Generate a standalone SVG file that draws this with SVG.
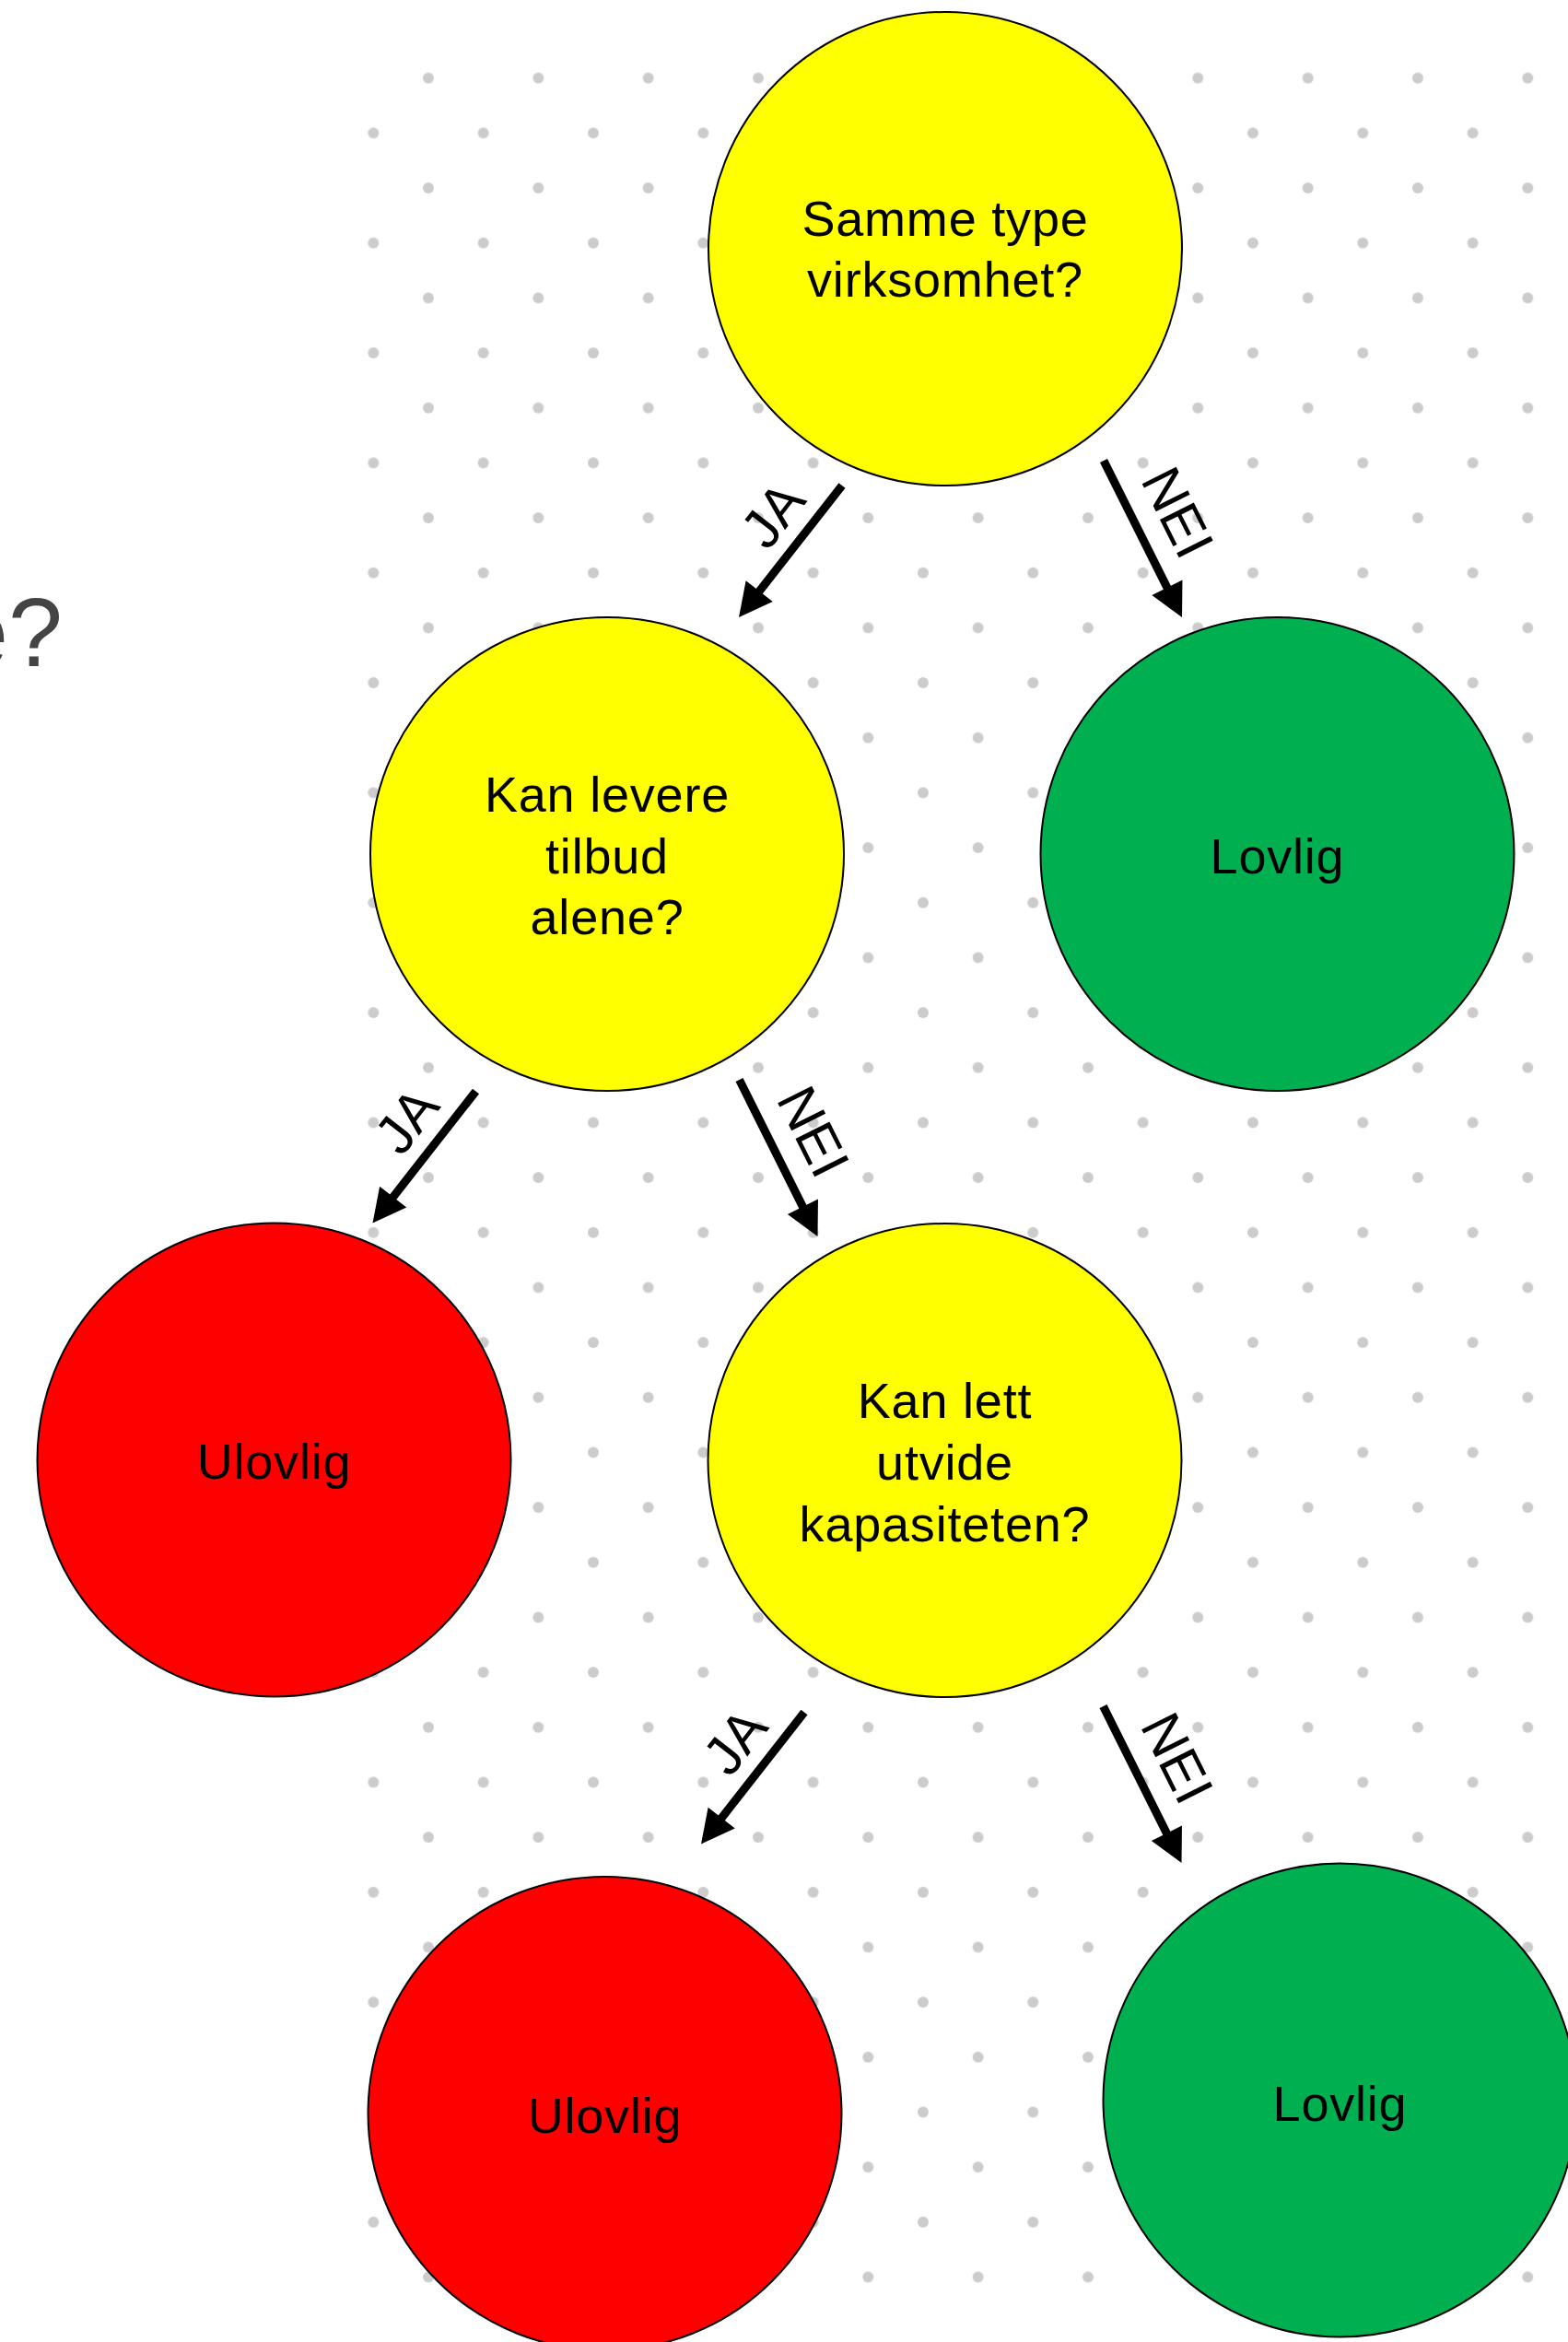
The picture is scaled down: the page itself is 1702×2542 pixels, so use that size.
<svg xmlns="http://www.w3.org/2000/svg" width="1702" height="2542" viewBox="0 0 1702 2542">
  <style>
    .node circle { stroke: #000; stroke-width: 2; }
    .q { fill: #ffff00; }
    .ok { fill: #00b050; }
    .no { fill: #ff0000; }
    .node text { font-family: "Liberation Sans", Arial, sans-serif; font-size: 54px; letter-spacing: 0.8px; fill: #000; text-anchor: middle; }
    .edge line { stroke: #000; stroke-width: 9; marker-end: url(#head); }
    .lbl { font-family: "Liberation Sans", Arial, sans-serif; font-size: 60px; fill: #000; text-anchor: middle; }
  </style>
  <defs>
    <!-- staggered grey dot grid -->
    <pattern id="dots" patternUnits="userSpaceOnUse" x="375.5" y="54.86" width="119.33" height="119.34">
      <circle cx="89.5" cy="29.84" r="6" fill="#cccccc"/>
      <circle cx="29.83" cy="89.51" r="6" fill="#cccccc"/>
    </pattern>
    <marker id="head" markerUnits="userSpaceOnUse" markerWidth="40" markerHeight="40" refX="0" refY="0" orient="auto" overflow="visible">
      <path d="M30,0 L-6,-18.5 L-6,18.5 Z" fill="#000"/>
    </marker>
  </defs>

  <rect width="1702" height="2542" fill="#fff"/>
  <rect x="395" y="75" width="1307" height="2410" fill="url(#dots)"/>

  <!-- heading running off the left edge -->
  <text x="-50" y="723" font-family="'Liberation Sans', Arial, sans-serif" font-size="106" fill="#444444">e?</text>

  <g id="connectors">
    <g class="edge" id="e1-ja">
      <line x1="914" y1="527" x2="820.5" y2="646.4"/>
      <text class="lbl" transform="translate(838.6 558.4) rotate(-51.92)" y="21">JA</text>
    </g>
    <g class="edge" id="e1-nei">
      <line x1="1198" y1="500" x2="1269.6" y2="643.2"/>
      <text class="lbl" transform="translate(1278.6 556.1) rotate(63.43)" y="21">NEI</text>
    </g>
    <g class="edge" id="e2-ja">
      <line x1="516.5" y1="1184.5" x2="423" y2="1303.9"/>
      <text class="lbl" transform="translate(441.1 1215.9) rotate(-51.92)" y="21">JA</text>
    </g>
    <g class="edge" id="e2-nei">
      <line x1="802.5" y1="1172" x2="874.1" y2="1315.2"/>
      <text class="lbl" transform="translate(883.1 1228.1) rotate(63.43)" y="21">NEI</text>
    </g>
    <g class="edge" id="e5-ja">
      <line x1="873" y1="1858.5" x2="779.5" y2="1977.9"/>
      <text class="lbl" transform="translate(797.6 1889.9) rotate(-51.92)" y="21">JA</text>
    </g>
    <g class="edge" id="e5-nei">
      <line x1="1197.5" y1="1852" x2="1269.1" y2="1995.2"/>
      <text class="lbl" transform="translate(1278.1 1908.1) rotate(63.43)" y="21">NEI</text>
    </g>
  </g>

  <g class="node" id="n-samme-type">
    <circle class="q" cx="1026" cy="270" r="257"/>
    <text><tspan x="1026" y="256">Samme type</tspan><tspan x="1026" y="322">virksomhet?</tspan></text>
  </g>
  <g class="node" id="n-levere-alene">
    <circle class="q" cx="659" cy="927" r="257"/>
    <text><tspan x="659" y="881">Kan levere</tspan><tspan x="659" y="948">tilbud</tspan><tspan x="659" y="1014">alene?</tspan></text>
  </g>
  <g class="node" id="n-lovlig-1">
    <circle class="ok" cx="1386.5" cy="927" r="257"/>
    <text x="1386.5" y="948">Lovlig</text>
  </g>
  <g class="node" id="n-ulovlig-1">
    <circle class="no" cx="297.5" cy="1584.5" r="257"/>
    <text x="297.5" y="1605">Ulovlig</text>
  </g>
  <g class="node" id="n-utvide-kapasitet">
    <circle class="q" cx="1025.5" cy="1585" r="257"/>
    <text><tspan x="1025.5" y="1539">Kan lett</tspan><tspan x="1025.5" y="1606">utvide</tspan><tspan x="1025.5" y="1673">kapasiteten?</tspan></text>
  </g>
  <g class="node" id="n-ulovlig-2">
    <circle class="no" cx="656.5" cy="2294" r="257"/>
    <text x="656.5" y="2315">Ulovlig</text>
  </g>
  <g class="node" id="n-lovlig-2">
    <circle class="ok" cx="1454.5" cy="2279.5" r="257"/>
    <text x="1454.5" y="2302">Lovlig</text>
  </g>
</svg>
